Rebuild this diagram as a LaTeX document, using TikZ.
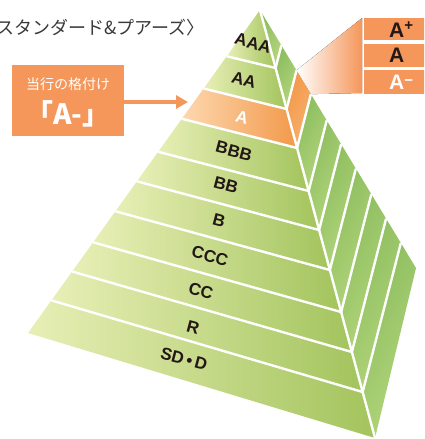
\documentclass[tikz,border=0pt]{standalone}
\usepackage{fontspec}
\setmainfont{Liberation Sans}
\newfontfamily\cjk{Noto Sans CJK JP}
\usetikzlibrary{arrows.meta,calc}
\definecolor{orng}{HTML}{F5965A}
\definecolor{txt}{HTML}{231815}
\definecolor{titlec}{HTML}{3A3A3A}
\definecolor{paleg}{HTML}{E8EFB6}
\definecolor{midg}{HTML}{D8E59A}
\definecolor{deepg}{HTML}{A3C45D}
\definecolor{sidel}{HTML}{B5D67C}
\definecolor{sided}{HTML}{8BBD5E}
\definecolor{peach}{HTML}{FDD8B0}
\definecolor{deepo}{HTML}{F2994A}
\definecolor{sideo}{HTML}{F7B06E}
\tikzset{
  lbl/.style={font=\fontsize{17}{17}\selectfont\bfseries, text=txt, rotate=-15, inner sep=0pt},
  whiteline/.style={draw=white, line width=2.4pt, line join=miter},
  boxlbl/.style={font=\fontsize{21}{21}\selectfont\bfseries, inner sep=0pt, anchor=west},
  rbox/.style={fill=orng, draw=none}
}
\begin{document}
\begin{tikzpicture}[x=1pt,y=-1pt]
\useasboundingbox (0,0) rectangle (424,439);
\clip (0,0) rectangle (424,439);
% main pyramid corners
\coordinate (T) at (260,10);
\coordinate (L) at (28,333);
\coordinate (B) at (375,438);
\coordinate (R) at (416,268);
\coordinate (r0) at (T); \coordinate (l0) at (T); \coordinate (s0) at (T);
\foreach \k/\yr in {1/68,2/109,3/148,4/191,5/230,6/270,7/312,8/352,9/392}{
  \pgfmathsetmacro\myxr{260+0.26869*(\yr-10)}
  \pgfmathsetmacro\myslope{0.24+0.00016216*(\yr-68)}
  \pgfmathsetmacro\myly{(\yr-\myslope*(\myxr-260-7.1827))/(1+\myslope*0.71827)}
  \pgfmathsetmacro\mylx{260-0.71827*(\myly-10)}
  \pgfmathsetmacro\mytp{(260+0.60465*(\yr-10)-\myxr)/(1+3.9*0.60465)}
  \pgfmathsetmacro\mysx{\myxr+\mytp}
  \pgfmathsetmacro\mysy{\yr-3.9*\mytp}
  \coordinate (r\k) at (\myxr,\yr);
  \coordinate (l\k) at (\mylx,\myly);
  \coordinate (s\k) at (\mysx,\mysy);
}
\coordinate (r10) at (B); \coordinate (l10) at (L);

% fan to the rating boxes
\fill[left color=white, right color=orng] (s2) -- (362,18) -- (362,93) -- (s3) -- cycle;

% front bands
\foreach \a/\b in {0/1,1/2,3/4,4/5,5/6,6/7,7/8,8/9,9/10}{
  \shade[left color=paleg, middle color=midg, right color=deepg]
    (l\a) -- (r\a) -- (r\b) -- (l\b) -- cycle;
}
\shade[left color=peach, right color=deepo] (l2) -- (r2) -- (r3) -- (l3) -- cycle;

% side stripes
\foreach \a/\b in {0/1,1/2,3/4,4/5,5/6,6/7,7/8,8/9}{
  \shade[left color=sided, right color=sidel, shading angle=60]
    (r\a) -- (s\a) -- (s\b) -- (r\b) -- cycle;
}
\shade[left color=sided, right color=sidel, shading angle=60] (r9) -- (s9) -- (R) -- (B) -- cycle;
\shade[left color=deepo, right color=sideo, shading angle=60] (r2) -- (s2) -- (s3) -- (r3) -- cycle;

% white separators
\foreach \k in {1,...,9}{
  \draw[whiteline] (l\k) -- (r\k) -- (s\k);
}
\draw[whiteline] (T) -- (B);

% band labels
\node[lbl] (nAAA) at (253,43) {AAA};
\node[lbl] (nAA) at (244,80) {AA};
\node[lbl, text=white] (nA) at (242,117) {A};
\node[lbl] (nBBB) at (234,151) {BBB};
\node[lbl] (nBB) at (226,185) {BB};
\node[lbl] (nB) at (219,220) {B};
\node[lbl] (nCCC) at (210,256) {CCC};
\node[lbl] (nCC) at (201,291) {CC};
\node[lbl] (nR) at (193,327) {R};
\node[lbl] (nSDD) at (184,359) {SD\,•\,D};

% title
\node[anchor=east, inner sep=0pt, text=titlec, font=\cjk\fontsize{18}{18}\selectfont] (title) at (205,28) {スタンダード\&プアーズ〉};

% current rating box
\node[rbox, minimum width=112pt, minimum height=71pt, inner sep=0pt] (cur) at (68,100.5) {};
\node[text=white, inner sep=0pt, font=\cjk\fontsize{14}{14}\selectfont] (curt) at (68,84) {当行の格付け};
\node[text=white, inner sep=0pt, font=\cjk\bfseries\fontsize{28}{28}\selectfont] (curr) at (68,114) {「A-」};
\coordinate (arrtip) at (188,102);
\draw[orng, line width=4pt, -{Triangle[length=12pt,width=13pt]}] (cur.east |- arrtip) -- (arrtip);

% rating boxes
\node[rbox, minimum width=62pt, minimum height=22pt, inner sep=0pt, anchor=north west] (bp) at (364,18) {};
\node[rbox, minimum width=62pt, minimum height=23.5pt, inner sep=0pt, anchor=north west] (bm) at (364,43.3) {};
\node[rbox, minimum width=62pt, minimum height=23.3pt, inner sep=0pt, anchor=north west] (bn) at (364,70) {};
\node[boxlbl, text=txt] (tp) at (389,29.5) {A\raisebox{0.3em}{\fontsize{15}{15}\selectfont +}};
\node[boxlbl, text=txt] (tm) at (389,55.5) {A};
\node[boxlbl, text=white] (tn) at (389,82) {A\raisebox{0.2em}{\fontsize{15}{15}\selectfont −}};
\end{tikzpicture}
\end{document}
